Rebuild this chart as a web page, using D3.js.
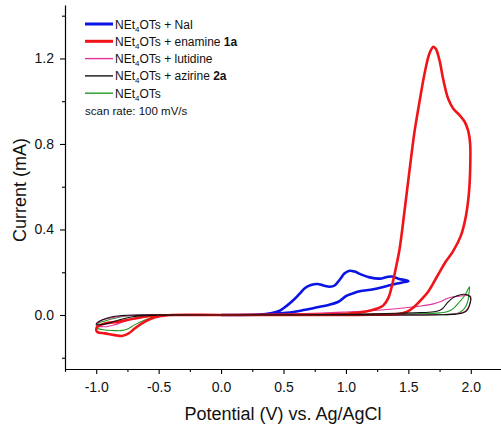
<!DOCTYPE html>
<html>
<head>
<meta charset="utf-8">
<script src="https://cdn.jsdelivr.net/npm/d3@7"></script>
<style>
  body { margin: 0; background: #fff; }
  svg { font-family: Arial, "Liberation Sans", sans-serif; }
</style>
</head>
<body>
<svg id="chart" width="501" height="424"></svg>
<script>
// cyclic voltammograms, [potential V, current mA], in scan order
const naI = [[0.0,0],[0.3,0.002],[0.4,0.008],[0.47,0.02],[0.53,0.045],[0.58,0.07],[0.63,0.1],[0.67,0.125],[0.72,0.14],[0.77,0.145],[0.82,0.138],[0.87,0.132],[0.91,0.138],[0.95,0.165],[0.99,0.195],[1.03,0.207],[1.07,0.203],[1.12,0.19],[1.19,0.176],[1.27,0.17],[1.33,0.178],[1.37,0.18],[1.42,0.17],[1.48,0.162],[1.5,0.158],[1.45,0.152],[1.41,0.147],[1.33,0.136],[1.22,0.12],[1.11,0.111],[1.05,0.1],[1.0,0.088],[0.94,0.062],[0.86,0.047],[0.77,0.036],[0.66,0.023],[0.55,0.012],[0.45,0.007],[0.35,0.002],[0.0,0]];

const enamine = [[0.0,0],[0.5,0.002],[1.0,0.006],[1.15,0.015],[1.25,0.03],[1.3,0.045],[1.34,0.08],[1.37,0.14],[1.4,0.22],[1.43,0.31],[1.47,0.49],[1.51,0.68],[1.55,0.86],[1.59,1.0],[1.63,1.13],[1.67,1.225],[1.7,1.255],[1.72,1.245],[1.75,1.19],[1.78,1.1],[1.82,1.01],[1.86,0.965],[1.91,0.935],[1.95,0.905],[1.98,0.86],[1.995,0.8],[1.995,0.68],[1.985,0.57],[1.96,0.46],[1.92,0.37],[1.86,0.3],[1.8,0.25],[1.73,0.18],[1.66,0.11],[1.6,0.07],[1.54,0.035],[1.49,0.015],[1.42,0.005],[1.2,0.001],[0.5,0],[0.0,0],[-0.42,-0.001],[-0.53,-0.011],[-0.61,-0.031],[-0.69,-0.062],[-0.74,-0.086],[-0.795,-0.098],[-0.85,-0.094],[-0.93,-0.086],[-0.99,-0.08],[-1.0,-0.07],[-0.99,-0.055],[-0.93,-0.04],[-0.82,-0.031],[-0.69,-0.016],[-0.55,-0.003],[-0.3,0],[0.0,0]];

const lutidine = [[0,0],[0.4,0.003],[0.8,0.009],[1.0,0.014],[1.2,0.02],[1.4,0.029],[1.6,0.042],[1.7,0.052],[1.76,0.063],[1.81,0.077],[1.86,0.085],[1.92,0.089],[1.99,0.09],[2.0,0.085],[1.995,0.06],[1.98,0.035],[1.95,0.015],[1.88,0.006],[1.75,0.002],[1.4,0],[0.5,0],[0,0],[-0.4,-0.001],[-0.6,-0.006],[-0.7,-0.017],[-0.76,-0.027],[-0.85,-0.045],[-0.93,-0.055],[-0.99,-0.05],[-1.0,-0.04],[-0.98,-0.03],[-0.93,-0.02],[-0.85,-0.01],[-0.75,-0.003],[-0.6,0],[0,0]];

const azirine = [[0,0],[0.5,0.001],[1.0,0.003],[1.4,0.008],[1.6,0.011],[1.72,0.016],[1.77,0.028],[1.81,0.055],[1.85,0.078],[1.89,0.09],[1.94,0.097],[1.98,0.092],[2.0,0.078],[1.995,0.055],[1.975,0.025],[1.94,0.01],[1.88,0.004],[1.75,0.001],[1.0,0],[0,0],[-0.5,-0.001],[-0.65,-0.004],[-0.72,-0.009],[-0.82,-0.023],[-0.9,-0.038],[-0.96,-0.045],[-1.0,-0.044],[-0.98,-0.032],[-0.95,-0.022],[-0.88,-0.009],[-0.8,-0.003],[-0.7,0],[0,0]];

const blank = [[0,0],[1.0,0.002],[1.6,0.006],[1.75,0.01],[1.81,0.015],[1.86,0.03],[1.91,0.062],[1.95,0.09],[1.99,0.132],[1.985,0.1],[1.975,0.062],[1.95,0.031],[1.91,0.012],[1.85,0.004],[1.7,0.001],[1.0,0],[0,0],[-0.45,-0.001],[-0.53,-0.006],[-0.61,-0.023],[-0.69,-0.045],[-0.75,-0.066],[-0.8,-0.073],[-0.85,-0.073],[-0.93,-0.07],[-0.99,-0.062],[-1.0,-0.05],[-0.98,-0.038],[-0.93,-0.028],[-0.85,-0.015],[-0.75,-0.005],[-0.6,0],[0,0]];

const xTicks = [-1.0, -0.5, 0.0, 0.5, 1.0, 1.5, 2.0];
const xMinor = [-1.25, -0.75, -0.25, 0.25, 0.75, 1.25, 1.75];
const yTicks = [0.0, 0.4, 0.8, 1.2];
const yMinor = [-0.2, 0.2, 0.6, 1.0, 1.4];

// legend rows: text after "NEt4OTs", then bold compound number
const legendRows = [
  { key: 'naI', label: ' + NaI', bold: '' },
  { key: 'enamine', label: ' + enamine ', bold: '1a' },
  { key: 'lutidine', label: ' + lutidine', bold: '' },
  { key: 'azirine', label: ' + azirine ', bold: '2a' },
  { key: 'blank', label: '', bold: '' },
];

const seriesStyle = {
  naI: { color: '#0a14e6', width: 2.6 },
  enamine: { color: '#f01419', width: 2.6 },
  lutidine: { color: '#e0329c', width: 1.1 },
  azirine: { color: '#111111', width: 1.1 },
  blank: { color: '#239a23', width: 1.1 },
};

const svg = d3.select('#chart');
const x = d3.scaleLinear().domain([-1.25, 2.25]).range([65, 502]);
const y = d3.scaleLinear().domain([-0.2526, 1.45]).range([369, 5]);

const line = d3.line()
  .x((d) => x(d[0]))
  .y((d) => y(d[1]))
  .curve(d3.curveCatmullRom.alpha(0.5));

// draw order: thin traces under the thick ones, black on top
const drawOrder = [
  ['blank', blank],
  ['lutidine', lutidine],
  ['naI', naI],
  ['enamine', enamine],
  ['azirine', azirine],
];

svg.append('g')
  .selectAll('path')
  .data(drawOrder)
  .join('path')
  .attr('d', (d) => line(d[1]))
  .attr('fill', 'none')
  .attr('stroke', (d) => seriesStyle[d[0]].color)
  .attr('stroke-width', (d) => seriesStyle[d[0]].width)
  .attr('stroke-linejoin', 'round');

// axes
const xAxis = svg.append('g').attr('transform', 'translate(0,369)');
xAxis.call(d3.axisBottom(x).tickValues(xTicks).tickFormat((d) => d.toFixed(1)).tickSize(5).tickSizeOuter(0));
xAxis.append('g').call(d3.axisBottom(x).tickValues(xMinor).tickFormat('').tickSize(3).tickSizeOuter(0))
  .select('.domain').remove();

const yAxis = svg.append('g').attr('transform', 'translate(65,0)');
yAxis.call(d3.axisLeft(y).tickValues(yTicks).tickFormat((d) => d.toFixed(1)).tickSize(5).tickSizeOuter(0));
yAxis.append('g').call(d3.axisLeft(y).tickValues(yMinor).tickFormat('').tickSize(3).tickSizeOuter(0))
  .select('.domain').remove();

svg.selectAll('.domain').attr('stroke', '#000').attr('stroke-width', 1.2);
svg.selectAll('.tick line').attr('stroke', '#000').attr('stroke-width', 1.1);
svg.selectAll('.tick text')
  .attr('font-family', 'Arial, "Liberation Sans", sans-serif')
  .attr('font-size', 14)
  .attr('fill', '#111');
xAxis.selectAll('.tick text').attr('dy', '0.71em').attr('y', 13);
yAxis.selectAll('.tick text').attr('x', -11);

svg.append('text')
  .attr('x', 283)
  .attr('y', 420)
  .attr('text-anchor', 'middle')
  .attr('font-size', 18)
  .attr('fill', '#111')
  .text('Potential (V) vs. Ag/AgCl');

svg.append('text')
  .attr('transform', 'translate(26,190) rotate(-90)')
  .attr('text-anchor', 'middle')
  .attr('font-size', 18)
  .attr('fill', '#111')
  .text('Current (mA)');

// legend
const legend = svg.append('g').attr('font-size', 12).attr('fill', '#111');
legendRows.forEach((row, i) => {
  const cy = 24 + i * 17.3;
  const st = seriesStyle[row.key];
  legend.append('line')
    .attr('x1', 85).attr('x2', 113)
    .attr('y1', cy).attr('y2', cy)
    .attr('stroke', st.color)
    .attr('stroke-width', st.width > 2 ? 3 : 1.4);
  const t = legend.append('text').attr('x', 115).attr('y', cy + 4.5);
  t.append('tspan').text('NEt');
  t.append('tspan').attr('font-size', 8).attr('dy', 3).text('4');
  t.append('tspan').attr('dy', -3).text('OTs' + row.label);
  if (row.bold) t.append('tspan').attr('font-weight', 'bold').text(row.bold);
});
legend.append('text')
  .attr('x', 85)
  .attr('y', 24 + 5 * 17.3 + 4)
  .attr('font-size', 11.5)
  .text('scan rate: 100 mV/s');
</script>
</body>
</html>
